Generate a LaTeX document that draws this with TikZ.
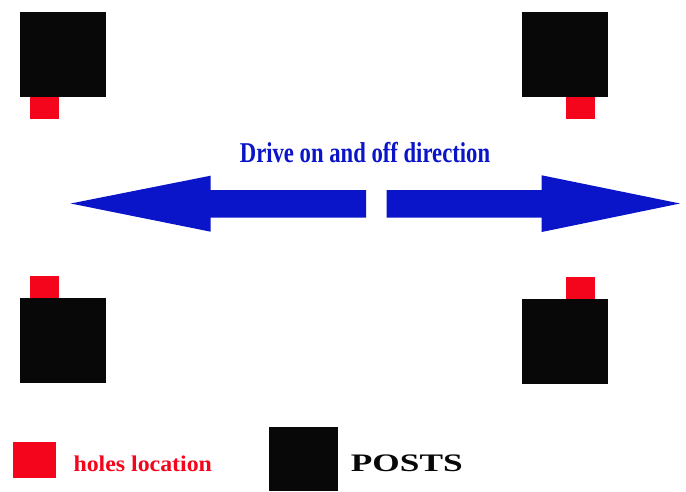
\documentclass[tikz,border=0pt]{standalone}
\usepackage{fontspec}
\setmainfont{Liberation Serif}
\usetikzlibrary{positioning}

\definecolor{postblack}{RGB}{8,8,8}
\definecolor{holered}{RGB}{245,5,28}
\definecolor{driveblue}{RGB}{10,20,200}

\begin{document}
\begin{tikzpicture}[x=1pt,y=-1pt,
    post/.style={fill=postblack,minimum width=86pt,minimum height=85pt,inner sep=0pt},
    hole/.style={fill=holered,minimum width=29pt,minimum height=22pt,inner sep=0pt},
    bigarrow/.style={fill=driveblue,draw=none}]
\useasboundingbox (0,0) rectangle (686,491);
% posts with their holes
\node [post] (tl) at (62.5,54) {};
\node [post] (tr) at (565.2,54) {};
\node [post] (bl) at (62.5,340.5) {};
\node [post] (br) at (565.2,341.5) {};
\node [hole,anchor=north] (tlh) at ([xshift=-17.7pt]tl.south) {};
\node [hole,anchor=north] (trh) at ([xshift=15.3pt]tr.south) {};
\node [hole,anchor=south] (blh) at ([xshift=-17.7pt]bl.north) {};
\node [hole,anchor=south] (brh) at ([xshift=15.3pt]br.north) {};
% direction
\node [anchor=base,text=driveblue,font=\bfseries\fontsize{28.7}{30}\selectfont,inner sep=0pt] (drive) at (365,162)
    {\scalebox{0.79}[1]{Drive on and off direction}};
\fill [bigarrow] (366,190) -- (210.7,190) -- (210.7,175.7) -- (70.7,203.5)
    -- (210.7,231.7) -- (210.7,217.5) -- (366,217.5) -- cycle;
\fill [bigarrow] (386.7,190) -- (541.7,190) -- (541.7,175.3) -- (680,203.5)
    -- (541.7,232) -- (541.7,217.5) -- (386.7,217.5) -- cycle;
% legend
\node [hole,minimum width=42.4pt,minimum height=36pt] (keyhole) at (34.5,460.3) {};
\node [anchor=base west,text=holered,font=\bfseries\fontsize{22.5}{24}\selectfont,inner sep=0pt] (holetext) at (73.3,471.7)
    {\scalebox{1.06}[1]{holes location}};
\node [post,minimum width=68.4pt,minimum height=64.3pt] (keypost) at (303.5,458.9) {};
\node [anchor=base west,text=postblack,font=\bfseries\fontsize{25.2}{27}\selectfont,inner sep=0pt] (posttext) at (350.7,471.7)
    {\scalebox{1.4}[1]{POSTS}};
\end{tikzpicture}
\end{document}
